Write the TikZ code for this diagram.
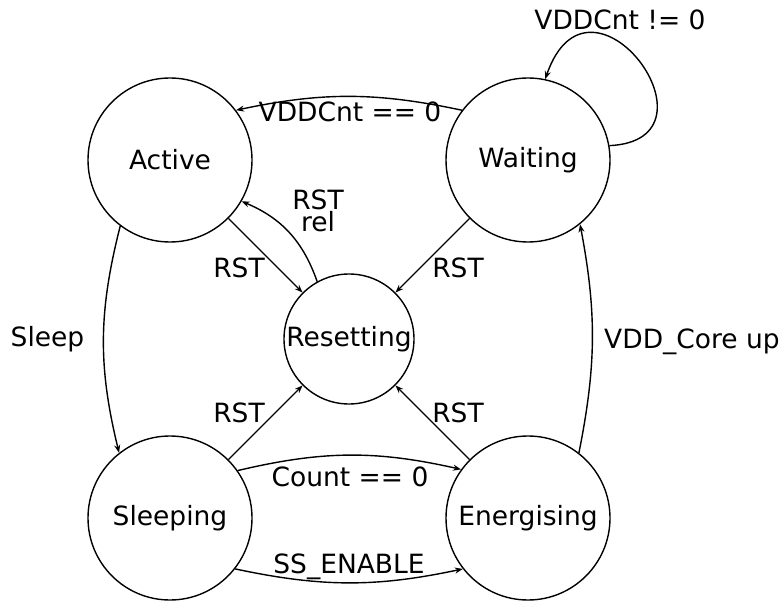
\documentclass[tikz,border=0pt]{standalone}
\usepackage{fontspec}
\setmainfont{DejaVu Sans}
\usetikzlibrary{arrows.meta}
\begin{document}
\begin{tikzpicture}[x=1pt,y=-1pt,
  every node/.style={font=\fontsize{26.5}{22}\selectfont},
  state/.style={circle,draw,line width=1.4pt,minimum size=164pt,inner sep=0pt},
  lbl/.style={anchor=base,inner sep=0pt},
  edge/.style={line width=1.4pt,-{Stealth[length=8pt,width=6pt]}}]
\useasboundingbox (0,0) rectangle (781,601);
\node[state] (A) at (170,160) {Active};
\node[state] (W) at (528,160) {Waiting};
\node[state,minimum size=130pt] (R) at (349,339) {Resetting};
\node[state] (S) at (170,518) {Sleeping};
\node[state] (E) at (528,518) {Energising};

\draw[edge] (W.143) to[bend right=12] (A.37);
\draw[edge] (W.10) .. controls (730,140) and (590,-50) .. (W.78);
\draw[edge] (A) -- (R);
\draw[edge] (R.119) to[bend right=24] (A.-30);
\draw[edge] (W) -- (R);
\draw[edge] (S) -- (R);
\draw[edge] (E) -- (R);
\draw[edge] (A.233) to[bend right=14] (S.128);
\draw[edge] (E.52) to[bend right=11] (W.-51);
\draw[edge] (S.35) to[bend left=13] (E.144);
\draw[edge] (S.-38) to[bend right=12] (E.-142);

\node[lbl] (l1) at (350,122) {VDDCnt == 0};
\node[lbl] (l2) at (620,30) {VDDCnt != 0};
\node[lbl] (l3a) at (318,210) {RST};
\node[lbl] (l3b) at (318,232) {rel};
\node[lbl] (l4) at (239,278) {RST};
\node[lbl] (l5) at (458,278) {RST};
\node[lbl] (l6) at (239,422) {RST};
\node[lbl] (l7) at (458,422) {RST};
\node[lbl] (l8) at (350,486) {Count == 0};
\node[lbl] (l9) at (349,573) {SS\_ENABLE};
\node[lbl] (l10) at (47.5,346) {Sleep};
\node[lbl] (l11) at (692,348) {VDD\_Core up};
\end{tikzpicture}
\end{document}
